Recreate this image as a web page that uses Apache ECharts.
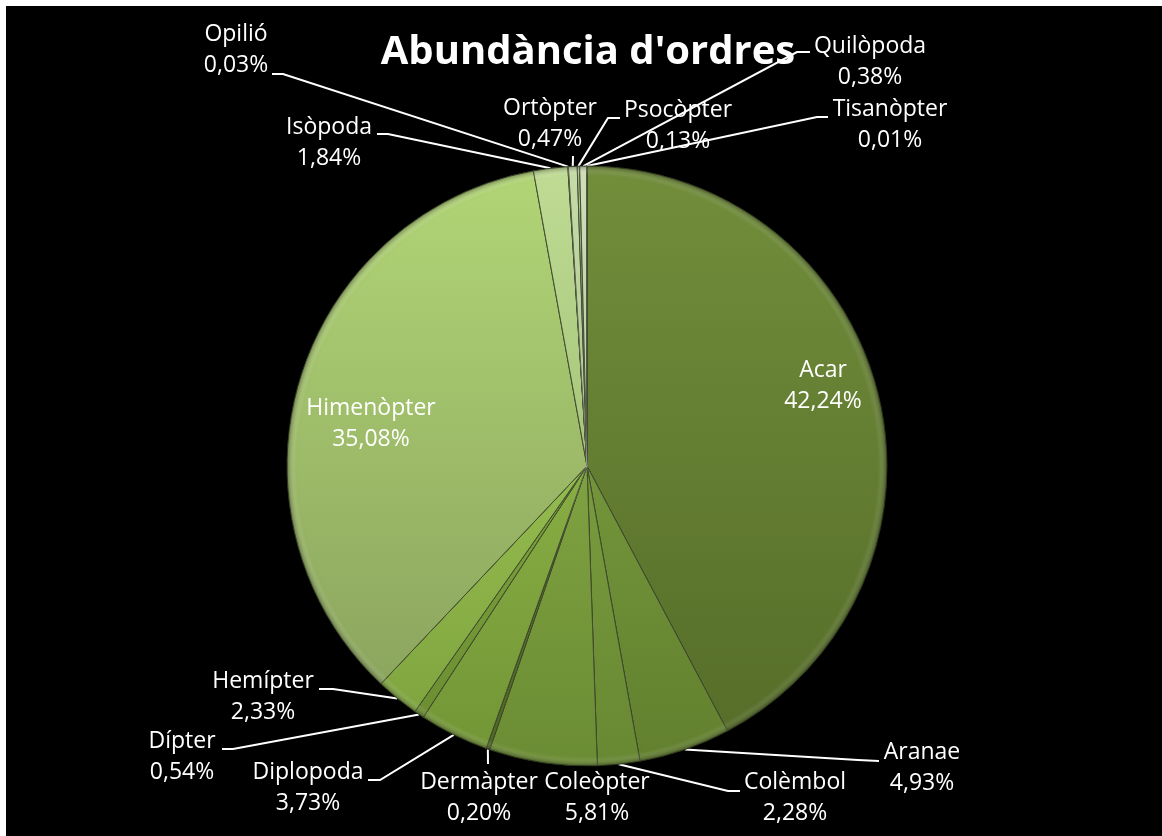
<!DOCTYPE html>
<html>
<head>
<meta charset="utf-8">
<script src="https://cdn.jsdelivr.net/npm/echarts@6/dist/echarts.min.js"></script>
<style>
  html, body { margin: 0; padding: 0; background: #fff; }
  #chart { width: 1162px; height: 836px; }
</style>
</head>
<body>
<div id="chart"></div>
<script>
// Orders found in the samples and their share of all individuals (%)
const orders = ['Acar', 'Aranae', 'Colèmbol', 'Coleòpter', 'Dermàpter', 'Diplopoda', 'Dípter',
  'Hemípter', 'Himenòpter', 'Isòpoda', 'Opilió', 'Ortòpter', 'Psocòpter', 'Quilòpoda', 'Tisanòpter'];
const abundance = [42.24, 4.93, 2.28, 5.81, 0.20, 3.73, 0.54, 2.33, 35.08, 1.84, 0.03, 0.47, 0.13, 0.38, 0.01];
const chartTitle = "Abundància d'ordres";

// Slice fills, upper and lower shade of each olive tone
const sliceFills = {
  'Acar':       ['#728e3b', '#566e29'],
  'Aranae':     ['#74953b', '#62802e'],
  'Colèmbol':   ['#7a9b3e', '#688832'],
  'Coleòpter':  ['#7fa241', '#6b8c33'],
  'Dermàpter':  ['#5f7c2c', '#4f6824'],
  'Diplopoda':  ['#88ae44', '#739636'],
  'Dípter':     ['#7ea43c', '#6c8e32'],
  'Hemípter':   ['#94bc4e', '#80a540'],
  'Himenòpter': ['#b2d576', '#8ca65e'],
  'Isòpoda':    ['#c0dc94', '#a6c47a'],
  'Opilió':     ['#9fbf74', '#8aaa62'],
  'Ortòpter':   ['#c6dca6', '#aec592'],
  'Psocòpter':  ['#b0c496', '#98ad80'],
  'Quilòpoda':  ['#cfdfb8', '#b7c9a0'],
  'Tisanòpter': ['#d6e4c4', '#bfcfac']
};

// Where each label block sits, and the bend/end of its leader line
const labelSpots = {
  'Acar':       { x: 823, y: 386 },
  'Aranae':     { x: 922, y: 768, line: [[858, 760], [879, 761]] },
  'Colèmbol':   { x: 795, y: 798, line: [[728, 791], [740, 791]] },
  'Coleòpter':  { x: 597, y: 798 },
  'Dermàpter':  { x: 479, y: 798, line: [[488, 764], [488, 764]] },
  'Diplopoda':  { x: 308, y: 788, line: [[380, 780], [368, 780]] },
  'Dípter':     { x: 182, y: 757, line: [[233, 749], [222, 749]] },
  'Hemípter':   { x: 263, y: 697, line: [[333, 689], [319, 689]] },
  'Himenòpter': { x: 371, y: 424 },
  'Isòpoda':    { x: 329, y: 143, line: [[388, 134], [377, 134]] },
  'Opilió':     { x: 236, y: 50,  line: [[283, 74], [272, 74]] },
  'Ortòpter':   { x: 550, y: 124, line: [[573, 156], [573, 156]] },
  'Psocòpter':  { x: 678, y: 126, line: [[608, 118], [620, 118]] },
  'Quilòpoda':  { x: 870, y: 62,  line: [[797, 52], [810, 52]] },
  'Tisanòpter': { x: 890, y: 125, line: [[817, 117], [828, 117]] }
};

const noLeader = ['Acar', 'Himenòpter', 'Coleòpter'];

const PIE_CENTER = [587, 466];
const PIE_RADIUS = 300;

const pieData = orders.map(function (name, i) {
  const fill = sliceFills[name];
  return {
    name: name,
    value: abundance[i],
    itemStyle: {
      color: {
        type: 'linear', x: 0, y: 0, x2: 0, y2: 1,
        colorStops: [{ offset: 0, color: fill[0] }, { offset: 1, color: fill[1] }]
      }
    },
    labelLine: { show: noLeader.indexOf(name) < 0 }
  };
});

// Same slices again, drawn on top as a soft bevelled rim
const rimData = orders.map(function (name, i) {
  return { name: name, value: abundance[i] };
});

const chart = echarts.init(document.getElementById('chart'), null, { renderer: 'canvas' });

chart.setOption({
  backgroundColor: '#000',
  animation: false,
  title: {
    text: chartTitle,
    left: 583,
    top: 28,
    textAlign: 'center',
    textStyle: {
      color: '#fff',
      fontFamily: 'Open Sans',
      fontWeight: 'bold',
      fontSize: 40
    }
  },
  graphic: [
    { type: 'rect', shape: { x: 0, y: 0, width: 1162, height: 6 }, style: { fill: '#fff' }, z: 100 },
    { type: 'rect', shape: { x: 0, y: 0, width: 6, height: 836 }, style: { fill: '#fff' }, z: 100 }
  ],
  series: [{
    type: 'pie',
    center: PIE_CENTER,
    radius: PIE_RADIUS,
    startAngle: 90,
    clockwise: true,
    avoidLabelOverlap: false,
    minAngle: 0,
    itemStyle: {
      borderColor: 'rgba(28, 38, 12, 0.85)',
      borderWidth: 1
    },
    label: {
      show: true,
      position: 'outside',
      color: '#fff',
      fontFamily: 'Open Sans',
      fontSize: 23,
      lineHeight: 31,
      formatter: function (p) {
        return p.name + '\n' + p.value.toFixed(2).replace('.', ',') + '%';
      }
    },
    labelLine: {
      show: true,
      length: 10,
      length2: 10,
      lineStyle: { color: '#fff', width: 2 }
    },
    labelLayout: function (p) {
      const spot = labelSpots[orders[p.dataIndex]];
      const out = { x: spot.x, y: spot.y, align: 'center', verticalAlign: 'middle' };
      if (spot.line && p.labelLinePoints) {
        out.labelLinePoints = [p.labelLinePoints[0], spot.line[0], spot.line[1]];
      }
      return out;
    },
    data: pieData
  }, {
    type: 'pie',
    center: PIE_CENTER,
    radius: PIE_RADIUS,
    startAngle: 90,
    clockwise: true,
    silent: true,
    label: { show: false },
    labelLine: { show: false },
    itemStyle: {
      borderColor: 'rgba(255, 255, 255, 0.08)',
      borderWidth: 1,
      color: {
        type: 'radial', x: PIE_CENTER[0], y: PIE_CENTER[1], r: PIE_RADIUS, global: true,
        colorStops: [
          { offset: 0, color: 'rgba(0,0,0,0)' },
          { offset: 0.96, color: 'rgba(0,0,0,0)' },
          { offset: 0.975, color: 'rgba(255,255,255,0.04)' },
          { offset: 1, color: 'rgba(0,0,0,0.35)' }
        ]
      }
    },
    data: rimData
  }]
});
</script>
</body>
</html>
